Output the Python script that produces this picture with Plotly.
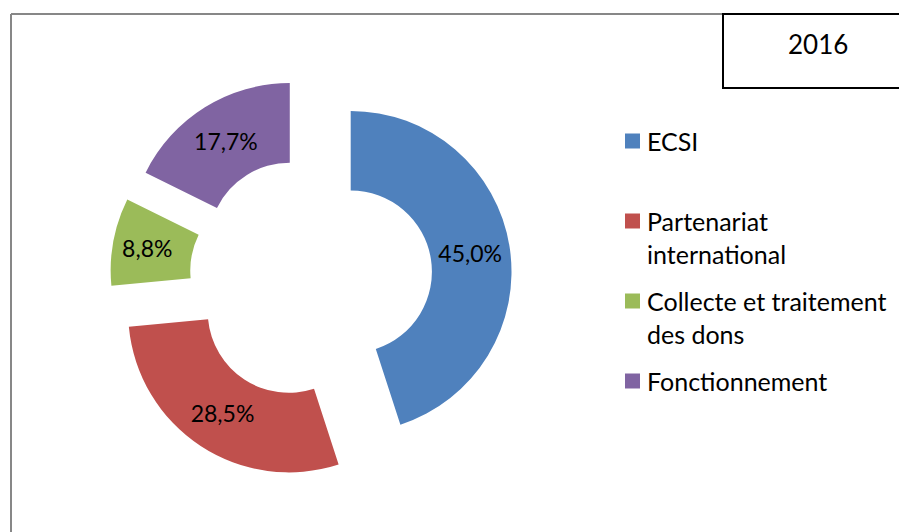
import plotly.graph_objects as go

# ---- data ----
categories = ["ECSI", "Partenariat international", "Collecte et traitement des dons", "Fonctionnement"]
legend_labels = ["ECSI", "Partenariat<br>international", "Collecte et traitement<br>des dons", "Fonctionnement"]
values = [45.0, 28.5, 8.8, 17.7]
colors = ["#4F81BD", "#C0504D", "#9BBB59", "#8064A2"]
year_label = "2016"

W, H = 899, 532
OFF = 0  # body margin removed via post_script
FONT = "Lato"


def px(x):
    return (x - OFF) / W


def py(y):
    return 1 - (y - OFF) / H


fig = go.Figure()
fig.add_trace(go.Pie(
    labels=categories,
    values=values,
    sort=False,
    direction="clockwise",
    rotation=0,
    hole=0.505,
    pull=[0.25] * len(values),
    marker=dict(colors=colors, line=dict(width=0)),
    texttemplate="%{percent:.1%}",
    textposition="inside",
    insidetextorientation="horizontal",
    textfont=dict(family=FONT, size=23, color="black"),
    showlegend=False,
    hoverinfo="label+percent",
    domain=dict(x=[px(110), px(512)], y=[py(479), py(77)]),
))

shapes = [
    # outer chart border (top and left visible)
    dict(type="line", xref="paper", yref="paper", x0=px(11), x1=px(915), y0=py(14), y1=py(14),
         line=dict(color="#878787", width=2)),
    dict(type="line", xref="paper", yref="paper", x0=px(11), x1=px(11), y0=py(14), y1=py(550),
         line=dict(color="#878787", width=2)),
    # year box
    dict(type="rect", xref="paper", yref="paper", x0=px(723), x1=px(915), y0=py(88), y1=py(14),
         line=dict(color="black", width=2), fillcolor="white"),
]
annotations = [
    dict(text=year_label, xref="paper", yref="paper", x=px(818), y=py(44), showarrow=False,
         xanchor="center", yanchor="middle", font=dict(family=FONT, size=26, color="black")),
]

# legend
fs = 25
lh = 1.3 * fs
for i, (lab, col) in enumerate(zip(legend_labels, colors)):
    yc = 141 + 80 * i
    shapes.append(dict(type="rect", xref="paper", yref="paper", x0=px(625), x1=px(640),
                       y0=py(yc + 7.5), y1=py(yc - 7.5), line=dict(width=0), fillcolor=col))
    n = lab.count("<br>") + 1
    annotations.append(dict(text=lab, xref="paper", yref="paper", x=px(645),
                            y=py(yc + (n - 1) * lh / 2), showarrow=False, xanchor="left",
                            yanchor="middle", align="left",
                            font=dict(family=FONT, size=fs, color="black")))

fig.update_layout(
    width=W, height=H,
    margin=dict(l=0, r=0, t=0, b=0),
    paper_bgcolor="white",
    plot_bgcolor="white",
    separators=", ",
    shapes=shapes,
    annotations=annotations,
    showlegend=False,
)

fig.write_html(
    "out.html",
    config={"displayModeBar": False},
    post_script="document.body.style.margin='0';document.body.style.overflow='hidden';",
)
